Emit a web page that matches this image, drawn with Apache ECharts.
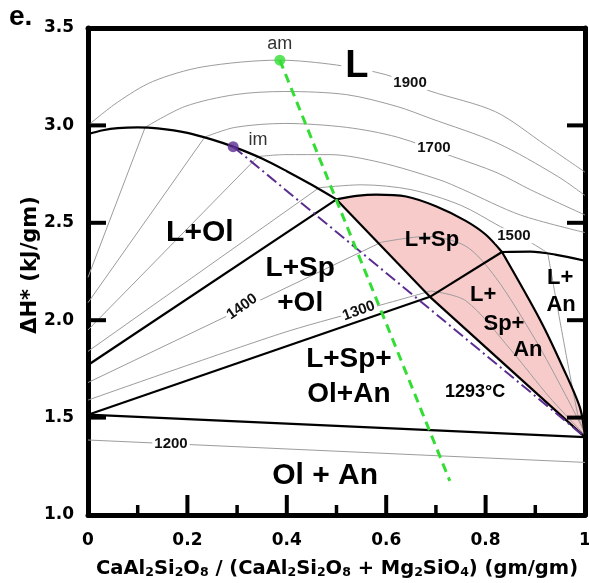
<!DOCTYPE html>
<html><head><meta charset="utf-8">
<script src="https://cdn.jsdelivr.net/npm/echarts@6/dist/echarts.min.js"></script>
<style>html,body{margin:0;padding:0;background:#fff;overflow:hidden}#c{width:589px;height:583px}</style>
</head><body><div id="c"></div>
<script>
// ---- phase boundaries (x = CaAl2Si2O8 fraction, y = ΔH* kJ/gm) ----
const olLiquidus = [[0,2.955],[0.03,2.975],[0.06,2.986],[0.1,2.99],[0.14,2.985],[0.2,2.962],[0.25,2.927],[0.292,2.891],[0.35,2.83],[0.4,2.765],[0.45,2.695],[0.5,2.62]];
const spLiquidus = [[0.5,2.62],[0.54,2.638],[0.58,2.645],[0.64,2.635],[0.70,2.585],[0.76,2.51],[0.80,2.44],[0.833,2.35]];
const anLiquidus = [[0.833,2.35],[0.89,2.352],[0.94,2.337],[1.0,2.305]];
const olSpBoundary = [[0,1.77],[0.5,2.62]];
const periBoundary = [[0.5,2.62],[0.688,2.12]];
const upperFourPhase = [[0,1.515],[0.688,2.12]];
const spAnBoundary = [[0.688,2.12],[0.833,2.35]];
const lowerPink = [[0.688,2.12],[1.0,1.40]];
const rightPink = [[0.833,2.35],[0.91,2.0],[0.955,1.76],[0.99,1.55],[1.0,1.40]];
const solidus = [[0,1.515],[1.0,1.40]];

// ---- isotherms (grey) ----
const iso1900 = [[0,3.0],[0.06,3.12],[0.13,3.225],[0.23,3.30],[0.385,3.335],[0.5,3.31],[0.6,3.26],[0.69,3.175],[0.82,3.07],[0.92,2.90],[1.0,2.76]];
const tie1800 = [[0,2.22],[0.115,2.99]];
const iso1800 = [[0.115,2.99],[0.195,3.097],[0.296,3.158],[0.396,3.174],[0.52,3.158],[0.622,3.097],[0.69,3.035],[0.823,2.91],[0.944,2.74],[1.0,2.64]];
const tie1700 = [[0,2.09],[0.235,2.94]];
const iso1700 = [[0.235,2.94],[0.296,2.99],[0.396,3.01],[0.52,2.99],[0.622,2.94],[0.734,2.84],[0.823,2.757],[0.89,2.67],[1.0,2.54]];
const tie1600 = [[0,1.95],[0.342,2.84]];
const iso1600 = [[0.342,2.84],[0.396,2.85],[0.487,2.85],[0.588,2.81],[0.708,2.72],[0.755,2.67],[0.87,2.54],[1.0,2.45]];
const tie1500 = [[0,1.84],[0.465,2.68]];
const iso1500 = [[0.465,2.68],[0.55,2.695],[0.65,2.67],[0.75,2.59],[0.83,2.48],[0.89,2.40],[0.925,2.345]];
const anTie1500 = [[0.925,2.345],[0.985,1.52],[1.0,1.42]];
const tie1400 = [[0,1.68],[0.59,2.40]];
const iso1400 = [[0.59,2.40],[0.68,2.43],[0.76,2.38],[0.82,2.22],[0.90,1.90],[0.96,1.62],[1.0,1.42]];
const tie1300 = [[0,1.59],[0.386,1.93],[0.55,2.05],[0.69,2.15]];
const iso1300 = [[0.69,2.15],[0.76,2.10],[0.85,1.85],[0.93,1.60],[1.0,1.41]];
const iso1200 = [[0,1.385],[1.0,1.27]];

// ---- compositions ----
const amPoint = [0.386,3.335];
const imPoint = [0.292,2.891];
const amPath = [[0.386,3.335],[0.728,1.175]];
const imPath = [[0.292,2.891],[1.0,1.40]];

// ---- ticks ----
const xMajorTicks = [0.2,0.4,0.6,0.8];
const xMinorTicks = [0.1,0.3,0.5,0.7,0.9];
const yTicks = [1.5,2.0,2.5,3.0];

// ---- text (in data coordinates) ----
const regionText = ['L','L+Ol','L+Sp\n+Ol','L+Sp+\nOl+An','L+Sp','L+','Sp+','An','L+','An','1293°C','Ol + An'];
const regionPos = [[0.541,3.30],[0.225,2.449],[0.427,2.177],[0.525,1.709],[0.692,2.413],[0.795,2.131],[0.837,1.981],[0.885,1.848],[0.950,2.218],[0.952,2.079],[0.779,1.632],[0.477,1.20]];
const isoText = ['1900','1700','1500','1400','1300','1200'];
const isoPos = [[0.648,3.22],[0.696,2.886],[0.857,2.434],[0.310,2.069],[0.545,2.048],[0.167,1.365]];
const pointText = ['am','im'];
const pointPos = [[0.386,3.42],[0.342,2.927]];

const regionSize = [38,30,28,28,22,22,22,22,22,22,18,30];
const isoRot = [0,0,0,35,20,0];

const ARIAL = '"Liberation Sans", Arial, sans-serif';
const DV = '"DejaVu Sans", sans-serif';

function lineS(data, color, width, smooth, z, type) {
  return {type:'line', data, symbol:'none', smooth: smooth || false, silent:true, z: z,
    lineStyle:{color, width, type: type || 'solid'}, animation:false, xAxisIndex:0, yAxisIndex:0};
}
const grey = '#9c9c9c';
const pinkPoly = spLiquidus.concat(rightPink.slice(1)).concat(lowerPink.slice().reverse().slice(1)).concat(periBoundary.slice().reverse().slice(1));

function textSeries(pos, texts, styler, z) {
  return {type:'custom', data: pos, z, silent:true, animation:false,
    renderItem(params, api) {
      const i = params.dataIndex;
      const p = api.coord(pos[i]);
      const st = styler(i);
      const style = Object.assign({text:texts[i], align:'center', verticalAlign:'middle'}, st.style);
      return {type:'text', x:p[0], y:p[1], rotation: (st.rot||0)*Math.PI/180, style};
    }};
}

const series = [
  {type:'custom', data:[[0.5,2.62]], z:1, silent:true, animation:false,
    renderItem(params, api) {
      return {type:'polygon', shape:{points: pinkPoly.map(p => api.coord(p))}, style:{fill:'#f8cbcb'}};
    }},
  lineS(iso1900, grey, 1, 0.3, 2), lineS(tie1800, grey, 1, false, 2), lineS(iso1800, grey, 1, 0.3, 2),
  lineS(tie1700, grey, 1, false, 2), lineS(iso1700, grey, 1, 0.3, 2),
  lineS(tie1600, grey, 1, false, 2), lineS(iso1600, grey, 1, 0.3, 2),
  lineS(tie1500, grey, 1, false, 2), lineS(iso1500, grey, 1, 0.3, 2), lineS(anTie1500, grey, 1, 0.3, 2),
  lineS(tie1400, grey, 1, false, 2), lineS(iso1400, grey, 1, 0.3, 2),
  lineS(tie1300, grey, 1, 0.3, 2), lineS(iso1300, grey, 1, 0.3, 2),
  lineS(iso1200, grey, 1, false, 2),
  lineS(olLiquidus, '#000', 2.2, 0.3, 5), lineS(spLiquidus, '#000', 2.2, 0.3, 5), lineS(anLiquidus, '#000', 2.2, 0.3, 5),
  lineS(olSpBoundary, '#000', 2.2, false, 5), lineS(periBoundary, '#000', 2.2, false, 5),
  lineS(upperFourPhase, '#000', 2.2, false, 5), lineS(spAnBoundary, '#000', 2.2, false, 5),
  lineS(lowerPink, '#000', 2.2, false, 5), lineS(rightPink, '#000', 2.2, 0.3, 5), lineS(solidus, '#000', 2.2, false, 5),
  textSeries(isoPos, isoText, i => ({rot: isoRot[i], style:{font:'bold 15px ' + ARIAL, fill:'#111', backgroundColor:'#fff', padding:[0,2]}}), 6),
  textSeries(regionPos, regionText, i => ({style: i === 0
      ? {font:'bold 38px ' + ARIAL, fill:'#000', backgroundColor:'#fff', padding:[0,4]}
      : {font:'bold ' + regionSize[i] + 'px ' + ARIAL, fill:'#000', lineHeight: regionSize[i]*1.25}}), 7),
  lineS(imPath, '#5b2d91', 2, false, 8, [12,4,2,4]),
  lineS(amPath, '#33dd33', 3, false, 9, [9,6]),
  {type:'scatter', data:[imPoint], symbolSize:11, itemStyle:{color:'#5b2d91'}, z:10, silent:true, animation:false},
  {type:'scatter', data:[amPoint], symbolSize:11, itemStyle:{color:'#33dd33'}, z:10, silent:true, animation:false},
  textSeries(pointPos, pointText, i => ({style:{font:'18px ' + ARIAL, fill:'#333'}}), 11)
];

const frame = () => ({show:true, onZero:false, lineStyle:{color:'#000', width:5}});
const option = {
  animation:false,
  backgroundColor:'#fff',
  grid:{left:88, right:4, top:28, bottom:68, containLabel:false, outerBoundsMode:'none'},
  xAxis:[
    {type:'value', min:0, max:1, interval:0.2, position:'bottom', axisLine:frame(), axisTick:{show:false},
     splitLine:{show:false},
     axisLabel:{margin:17, color:'#000', fontFamily:DV, fontWeight:'bold', fontSize:17,
       formatter: v => (v === 0 ? '0' : (v === 1 ? '1' : v.toFixed(1)))}},
    {type:'value', min:0, max:1, position:'top', axisLine:frame(), axisTick:{show:false}, axisLabel:{show:false}, splitLine:{show:false}}
  ],
  yAxis:[
    {type:'value', min:1, max:3.5, interval:0.5, position:'left', axisLine:frame(), axisTick:{show:false},
     splitLine:{show:false},
     axisLabel:{margin:14, color:'#000', fontFamily:DV, fontWeight:'bold', fontSize:17, formatter: v => v.toFixed(1)}},
    {type:'value', min:1, max:3.5, position:'right', axisLine:frame(), axisTick:{show:false}, axisLabel:{show:false}, splitLine:{show:false}}
  ],
  series
};
const chart = echarts.init(document.getElementById('c'));
chart.setOption(option);

// tick marks and axis titles, placed through the chart's own scales
const px = (x, y) => chart.convertToPixel({xAxisIndex:0, yAxisIndex:0}, [x, y]);
const g = [];
const seg = (x1,y1,x2,y2,w) => g.push({type:'line', z:100, shape:{x1,y1,x2,y2}, style:{stroke:'#000', lineWidth:w}});
// frame positions from interior points (linear scales)
const pA = px(0.5, 2.0), pB = px(1.0, 3.0), pC = px(0.75, 1.5);
const xLeft = 2 * pA[0] - pB[0];          // x = 0
const xRight = pB[0];                     // x = 1
const yBottom = pC[1] + (pC[1] - pA[1]);  // y = 1
xMajorTicks.forEach(v => { const x = px(v, 2)[0]; seg(x, yBottom, x, yBottom - 20, 4); });
xMinorTicks.forEach(v => { const x = px(v, 2)[0]; seg(x, yBottom, x, yBottom - 10, 3.5); });
yTicks.forEach(v => { const y = px(0.5, v)[1]; seg(xLeft, y, xLeft + 18, y, 4); seg(xRight, y, xRight - 18, y, 4); });
g.push({type:'text', x:9, y:3, z:100, style:{text:'e.', font:'bold 28px ' + ARIAL, fill:'#000'}});
g.push({type:'text', x:31, y:265, z:100, rotation:Math.PI/2, style:{text:'ΔH* (kJ/gm)', font:'bold 21px ' + DV, fill:'#000', align:'center', verticalAlign:'middle'}});
g.push({type:'text', x:337, y:568, z:100, style:{
  text:'{m|CaAl}{s|2}{m|Si}{s|2}{m|O}{s|8}{m| / (CaAl}{s|2}{m|Si}{s|2}{m|O}{s|8}{m| + Mg}{s|2}{m|SiO}{s|4}{m|) (gm/gm)}',
  align:'center', verticalAlign:'middle', fill:'#000',
  rich:{m:{font:'bold 19.5px ' + DV, fill:'#000', verticalAlign:'bottom', lineHeight:22},
        s:{font:'bold 12.5px ' + DV, fill:'#000', verticalAlign:'bottom', lineHeight:22}}}});
chart.setOption({graphic: g});
</script></body></html>
